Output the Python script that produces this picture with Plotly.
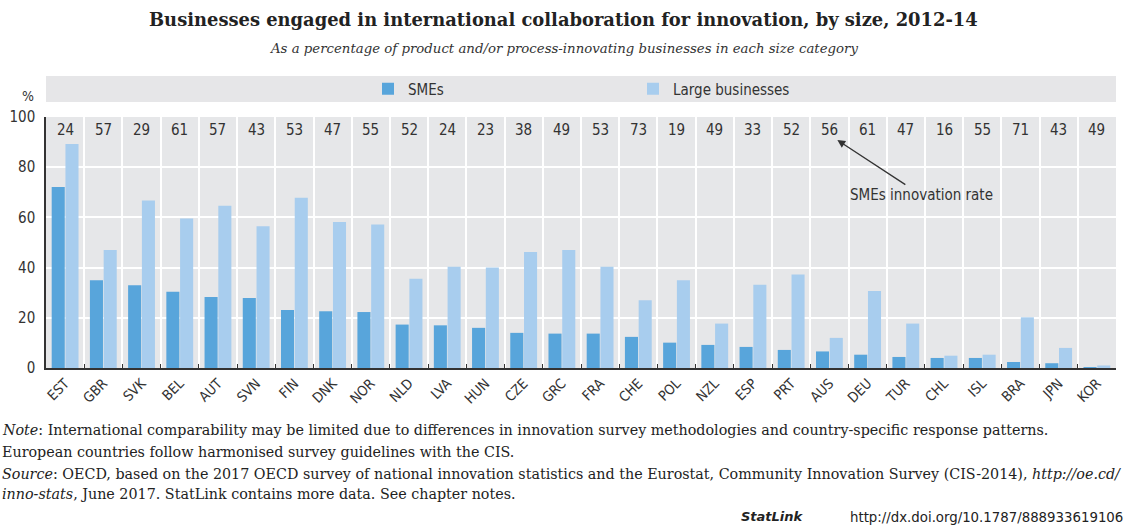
import plotly.graph_objects as go

countries = ["EST","GBR","SVK","BEL","AUT","SVN","FIN","DNK","NOR","NLD","LVA","HUN","CZE","GRC",
             "FRA","CHE","POL","NZL","ESP","PRT","AUS","DEU","TUR","CHL","ISL","BRA","JPN","KOR"]
smes = [72.1,35.0,33.0,30.4,28.3,27.9,23.1,22.6,22.3,17.3,17.0,16.0,14.0,13.7,
        13.7,12.4,10.1,9.2,8.4,7.2,6.6,5.3,4.4,4.0,4.0,2.4,1.9,0.1]
large = [89.2,47.0,66.7,59.6,64.6,56.5,67.8,58.2,57.2,35.6,40.3,40.0,46.2,47.0,
         40.3,27.0,35.0,17.7,33.2,37.3,12.0,30.7,17.7,4.9,5.3,20.2,8.0,1.0]
sme_rate = [24,57,29,61,57,43,53,47,55,52,24,23,38,49,53,73,19,49,33,52,56,61,47,16,55,71,43,49]
yticks = [0,20,40,60,80,100]

SANS = "Liberation Sans Narrow, DejaVu Sans Condensed, Arial Narrow, sans-serif"
SERIF = "DejaVu Serif, serif"
TXT = "#333333"

fig = go.Figure()
fig.add_trace(go.Bar(x=countries, y=smes, name="SMEs", marker_color="#58a5db", marker_line_width=0))
fig.add_trace(go.Bar(x=countries, y=large, name="Large businesses", marker_color="#a8cdee", marker_line_width=0))

W, H = 1126, 531
ml, mr, mt, mb = 46, 10, 117, 163
pw = W - ml - mr
ph = H - mt - mb

def px2paper_x(px):
    return (px - ml) / pw

def px2paper_y(py):
    return (H - mb - py) / ph

annotations = []
for c, r in zip(countries, sme_rate):
    annotations.append(dict(x=c, y=95, xref="x", yref="y", text=str(r), showarrow=False,
                            font=dict(family=SANS, size=15, color=TXT)))

annotations.append(dict(x="AUS", y=90.8, xref="x", yref="y", xshift=8,
                        text="SMEs innovation rate", showarrow=True, arrowhead=2, arrowsize=1.2,
                        arrowwidth=1.3, arrowcolor="#333333", ax=84, ay=55,
                        font=dict(family=SANS, size=15, color=TXT)))

annotations.append(dict(x=px2paper_x(28), y=px2paper_y(96), xref="paper", yref="paper",
                        xanchor="center", yanchor="middle",
                        text="%", showarrow=False, font=dict(family=SANS, size=14, color=TXT)))

# Title & subtitle
annotations.append(dict(x=px2paper_x(W / 2), y=px2paper_y(20), xref="paper", yref="paper",
                        xanchor="center", yanchor="middle",
                        text="<b>Businesses engaged in international collaboration for innovation, by size, 2012-14</b>",
                        showarrow=False, font=dict(family=SERIF, size=17.9, color="#222222")))
annotations.append(dict(x=px2paper_x(563), y=px2paper_y(48), xref="paper", yref="paper",
                        xanchor="center", yanchor="middle",
                        text="<i>As a percentage of product and/or process-innovating businesses in each size category</i>",
                        showarrow=False, font=dict(family=SERIF, size=13.3, color=TXT)))

notes = [
    (430, "<i>Note</i>: International comparability may be limited due to differences in innovation survey methodologies and country-specific response patterns."),
    (452, "European countries follow harmonised survey guidelines with the CIS."),
    (474, "<i>Source</i>: OECD, based on the 2017 OECD survey of national innovation statistics and the Eurostat, Community Innovation Survey (CIS-2014), <i>http://oe.cd/</i>"),
    (494, "<i>inno-stats</i>, June 2017. StatLink contains more data. See chapter notes."),
]
for py, t in notes:
    annotations.append(dict(x=px2paper_x(0), y=px2paper_y(py), xref="paper", yref="paper",
                            xanchor="left", yanchor="middle", text=t, showarrow=False, align="left",
                            font=dict(family=SERIF, size=14.3, color="#222222")))
annotations.append(dict(x=px2paper_x(806), y=px2paper_y(516), xref="paper", yref="paper",
                        xanchor="right", yanchor="middle",
                        text="<b><i>StatLink</i></b>",
                        showarrow=False, font=dict(family="DejaVu Sans, sans-serif", size=13, color="#222222")))
annotations.append(dict(x=px2paper_x(1125), y=px2paper_y(516), xref="paper", yref="paper",
                        xanchor="right", yanchor="middle",
                        text="http://dx.doi.org/10.1787/888933619106",
                        showarrow=False, font=dict(family="DejaVu Sans Condensed, sans-serif", size=14.8, color="#222222")))

shapes = [dict(type="rect", xref="paper", yref="paper", x0=0, x1=1,
               y0=px2paper_y(102), y1=px2paper_y(76), fillcolor="#e6e6e8", line_width=0, layer="below")]

fig.update_layout(
    width=W, height=H,
    margin=dict(l=ml, r=mr, t=mt, b=mb, autoexpand=False),
    paper_bgcolor="white", plot_bgcolor="#e6e7e9",
    barmode="group", bargap=0.28, bargroupgap=0.05,
    showlegend=True,
    legend=dict(orientation="h", x=px2paper_x(368), y=px2paper_y(89), yanchor="middle", xanchor="left",
                bgcolor="rgba(0,0,0,0)", entrywidth=220, entrywidthmode="pixels",
                font=dict(family=SANS, size=15, color=TXT)),
    annotations=annotations, shapes=shapes,
    font=dict(family=SANS, color=TXT),
)
fig.update_xaxes(type="category", tickangle=-45, tickson="boundaries", showgrid=True, automargin=False,
                 gridcolor="white", gridwidth=1.5, ticks="inside", ticklen=4, tickcolor="#333333",
                 showline=True, linecolor="#333333", linewidth=1.5,
                 tickfont=dict(family=SANS, size=14, color=TXT))
fig.update_yaxes(range=[0, 100], tickvals=yticks, showgrid=True, gridcolor="white", gridwidth=1.5,
                 automargin=False, ticklabelstandoff=6,
                 showline=True, linecolor="#333333", linewidth=1.5, ticks="", zeroline=False,
                 tickfont=dict(family=SANS, size=15, color=TXT))

fig.write_html("out.html", config={"displayModeBar": False},
               post_script="document.body.style.margin='0px';")
